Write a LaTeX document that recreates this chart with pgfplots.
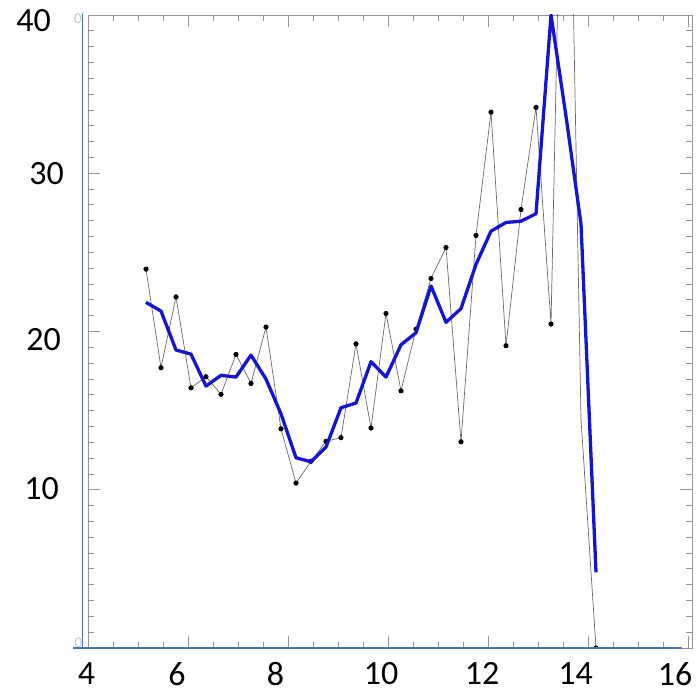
\documentclass[border=0pt]{standalone}
\usepackage{fontspec}
\setmainfont{Carlito}
\usepackage{pgfplots}
\usepackage{pgfplotstable}
\pgfplotsset{compat=1.18}
\definecolor{frameg}{RGB}{150,150,150}
\definecolor{lineblue}{RGB}{20,20,215}
\definecolor{axblue}{RGB}{68,114,196}
\definecolor{datagray}{RGB}{105,105,105}

\pgfplotstableread{
x y
5.16 23.94
5.46 17.71
5.76 22.19
6.06 16.44
6.36 17.14
6.66 16.03
6.96 18.55
7.26 16.72
7.56 20.28
7.86 13.85
8.16 10.42
8.46 11.80
8.76 13.06
9.06 13.29
9.36 19.22
9.66 13.90
9.96 21.14
10.26 16.25
10.56 20.15
10.86 23.35
11.16 25.31
11.46 13.03
11.76 26.07
12.06 33.86
12.36 19.10
12.66 27.71
12.96 34.16
13.26 20.47
13.56 66.00
13.86 14.45
14.16 0.00
}\blackdata

\pgfplotstableread{
x y
5.16 21.84
5.46 21.29
5.76 18.83
6.06 18.57
6.36 16.55
6.66 17.23
6.96 17.12
7.26 18.51
7.56 16.99
7.86 14.80
8.16 12.02
8.46 11.77
8.76 12.70
9.06 15.18
9.36 15.48
9.66 18.09
9.96 17.12
10.26 19.16
10.56 19.92
10.86 22.88
11.16 20.58
11.46 21.45
11.76 24.24
12.06 26.34
12.36 26.89
12.66 26.97
12.96 27.44
13.26 40.00
13.56 33.60
13.86 26.80
14.16 4.78
}\bluedata

\begin{document}
\begin{tikzpicture}
\useasboundingbox (0,0) rectangle (695pt,695pt);
\begin{axis}[
  at={(88pt,47pt)}, anchor=south west,
  scale only axis, width=604pt, height=633pt,
  xmin=4, xmax=16.08, ymin=0, ymax=40,
  xtick={4,6,...,16}, ytick={0,10,...,40},
  minor x tick num=3, minor y tick num=9,
  xticklabels={}, yticklabels={},
  tick align=inside,
  major tick length=12pt, minor tick length=6pt,
  tick style={frameg, line width=0.8pt},
  axis line style={frameg, line width=0.9pt},
  clip marker paths=true,
]
\addplot[datagray, line width=0.7pt, mark=*, mark size=2.2pt,
  mark options={black, fill=black, solid},
  mark indices={1,2,3,4,5,6,7,8,9,10,11,12,13,14,15,16,17,18,19,20,21,22,23,24,25,26,27,28,30}]
  table[x=x, y=y] {\blackdata};
\addplot[lineblue, line width=3.3pt, line join=round, no marks]
  table[x=x, y=y] {\bluedata};
\end{axis}
\begin{axis}[
  at={(88pt,47pt)}, anchor=south west,
  scale only axis, width=604pt, height=633pt,
  xmin=4, xmax=16.08, ymin=0, ymax=40,
  x axis line style={draw=none}, y axis line style={draw=none},
  tick style={draw=none},
  major tick length=0pt,
  xtick={4,5.78,7.75,9.86,11.88,13.75,15.74},
  xticklabels={{4\kern3pt},6,8,10,12,14,16},
  ytick={10.06,19.46,29.96,39.67},
  yticklabels={{10\kern2pt},20,{30\kern-3pt},{40\kern10pt}},
  ticklabel style={font=\fontsize{34}{36}\selectfont, inner sep=0pt, text=black},
  xticklabel style={anchor=north, yshift=-14pt},
  yticklabel style={anchor=east, xshift=-27pt},
]
\end{axis}
\node[text=gray!45, font=\fontsize{15}{15}\selectfont, inner sep=0pt] at (78pt,676pt) {0};
\node[text=gray!45, font=\fontsize{15}{15}\selectfont, inner sep=0pt] at (78.5pt,52pt) {0};
\draw[axblue, line width=1.5pt] (82.5pt,47pt) -- (82.5pt,682pt);
\draw[axblue, line width=1.5pt] (72.7pt,47pt) -- (682pt,47pt);
\end{tikzpicture}
\end{document}
